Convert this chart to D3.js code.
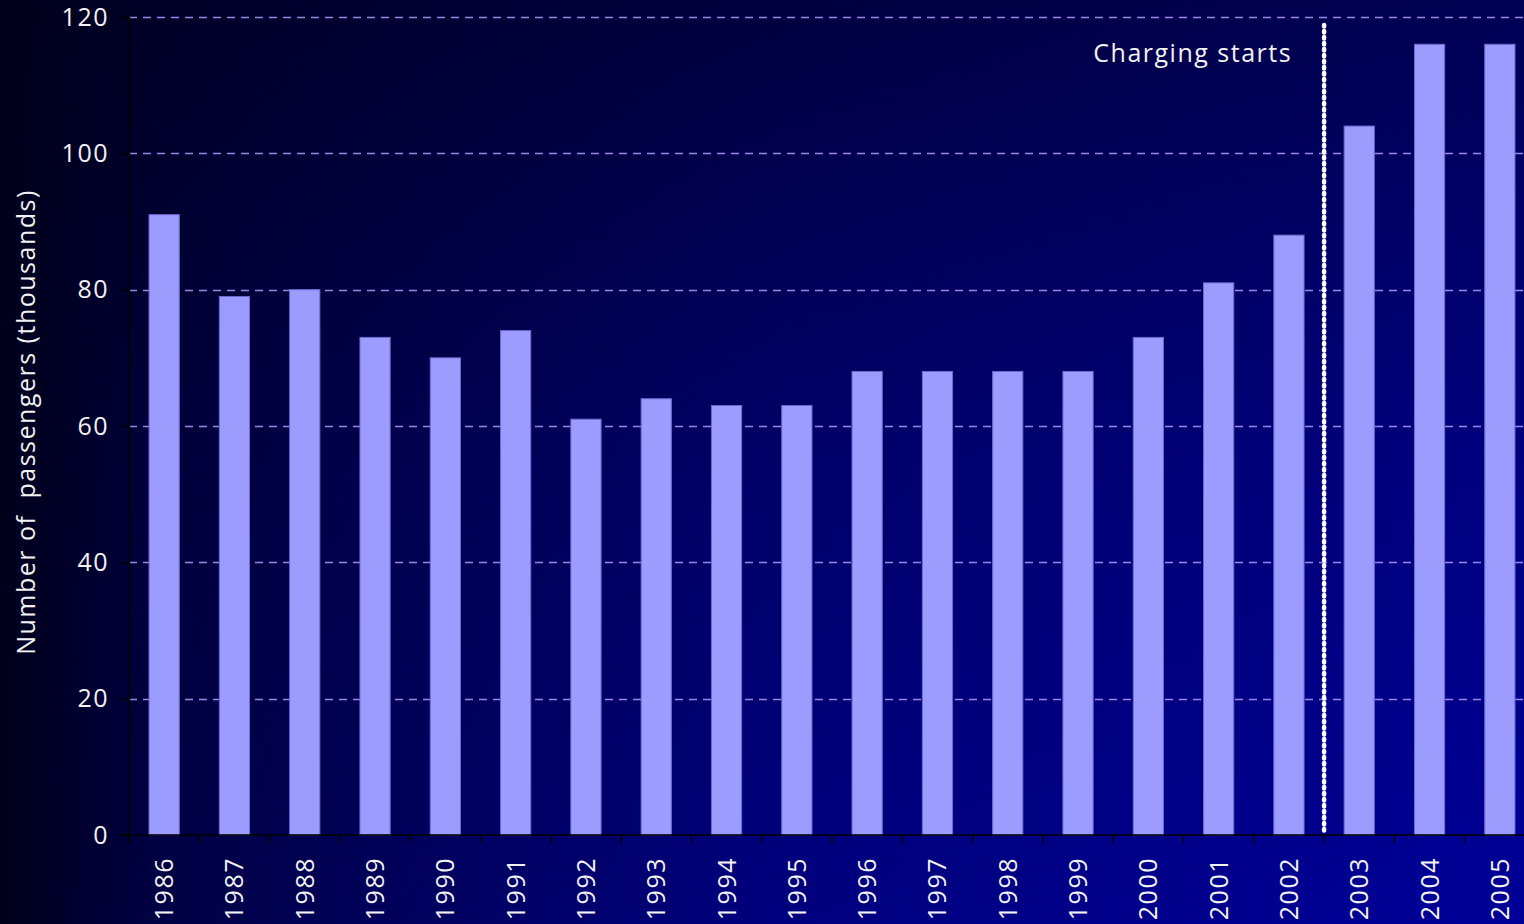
<!DOCTYPE html>
<html>
<head>
<meta charset="utf-8">
<script src="https://cdn.jsdelivr.net/npm/d3@7"></script>
<style>
  html, body { margin: 0; padding: 0; background: #000018; }
  svg { display: block; }
  text { font-family: "Open Sans", "DejaVu Sans", sans-serif; fill: #f2f2f2; letter-spacing: 1.5px; }
</style>
</head>
<body>
<div id="vis"></div>
<script>
const WIDTH = 1524;
const HEIGHT = 924;
const MARGIN = { LEFT: 129, TOP: 17, BOTTOM: 89 };
const FONT_SIZE = "25px";

// data
const years = ["1986", "1987", "1988", "1989", "1990", "1991", "1992", "1993", "1994", "1995",
  "1996", "1997", "1998", "1999", "2000", "2001", "2002", "2003", "2004", "2005"];
const passengers = [91, 79, 80, 73, 70, 74, 61, 64, 63, 63,
  68, 68, 68, 68, 73, 81, 88, 104, 116, 116];
const yTicks = [0, 20, 40, 60, 80, 100, 120];
const chargingYear = "2003";
const chargingLabel = "Charging starts";
const yLabel = "Number of\u00a0 passengers (thousands)";

const data = years.map((y, i) => ({ year: y, value: passengers[i] }));

const svg = d3.select("#vis")
  .append("svg")
  .attr("width", WIDTH)
  .attr("height", HEIGHT);

// background: dark base that lightens to the right, plus a blue layer
// that grows toward the bottom right
const defs = svg.append("defs");
const base = defs.append("linearGradient")
  .attr("id", "bgBase")
  .attr("x1", 0).attr("y1", 0).attr("x2", 1).attr("y2", 0);
base.append("stop").attr("offset", "0%").attr("stop-color", "#00001c");
base.append("stop").attr("offset", "100%").attr("stop-color", "#000042");

const blue = defs.append("linearGradient")
  .attr("id", "bgBlue")
  .attr("x1", 0).attr("y1", 0).attr("x2", 1).attr("y2", 0);
[[0, 0], [0.1, 0.3], [0.5, 0.75], [1, 1]].forEach(([o, a]) => {
  blue.append("stop").attr("offset", o).attr("stop-color", "#000098").attr("stop-opacity", a);
});

const vert = defs.append("linearGradient")
  .attr("id", "bgVert")
  .attr("x1", 0).attr("y1", 0).attr("x2", 0).attr("y2", 1);
[[0, 0.2], [0.5, 0.72], [1, 1]].forEach(([o, a]) => {
  vert.append("stop").attr("offset", o).attr("stop-color", "#ffffff").attr("stop-opacity", a);
});
defs.append("mask")
  .attr("id", "bgMask")
  .append("rect")
  .attr("width", WIDTH)
  .attr("height", HEIGHT)
  .attr("fill", "url(#bgVert)");

svg.append("rect")
  .attr("width", WIDTH)
  .attr("height", HEIGHT)
  .attr("fill", "url(#bgBase)");
svg.append("rect")
  .attr("width", WIDTH)
  .attr("height", HEIGHT)
  .attr("fill", "url(#bgBlue)")
  .attr("mask", "url(#bgMask)");

// scales (the last band runs past the right edge, like the original)
const x = d3.scaleBand()
  .domain(years)
  .range([MARGIN.LEFT, 1535])
  .paddingInner(0.57)
  .paddingOuter(0.285);

const y = d3.scaleLinear()
  .domain([0, 120])
  .range([HEIGHT - MARGIN.BOTTOM, MARGIN.TOP]);

// gridlines
svg.append("g")
  .attr("class", "grid")
  .selectAll("line")
  .data(yTicks.filter((d) => d > 0))
  .enter()
  .append("line")
  .attr("x1", MARGIN.LEFT)
  .attr("x2", WIDTH)
  .attr("y1", (d) => Math.round(y(d)) + 0.5)
  .attr("y2", (d) => Math.round(y(d)) + 0.5)
  .attr("stroke", "#9a86e6")
  .attr("stroke-width", 1.5)
  .attr("stroke-dasharray", "8,6");

// bars
svg.append("g")
  .attr("class", "bars")
  .selectAll("rect")
  .data(data)
  .enter()
  .append("rect")
  .attr("x", (d) => x(d.year))
  .attr("y", (d) => y(d.value))
  .attr("width", x.bandwidth())
  .attr("height", (d) => y(0) - y(d.value))
  .attr("fill", "#9c9cff")
  .attr("stroke", "#6a6ad0")
  .attr("stroke-width", 1);

// y axis
const yAxis = svg.append("g")
  .attr("transform", `translate(${MARGIN.LEFT},0)`)
  .call(d3.axisLeft(y).tickValues(yTicks).tickSize(8).tickPadding(12));
yAxis.select(".domain").attr("stroke", "#000000").attr("stroke-width", 1.5);
yAxis.selectAll(".tick line").attr("stroke", "#000000").attr("stroke-width", 1.5);
yAxis.selectAll(".tick text")
  .attr("fill", "#f2f2f2")
  .style("font-size", FONT_SIZE)
  .style("font-family", "Open Sans, sans-serif");

// x axis: ticks sit between the bands
const xAxisG = svg.append("g")
  .attr("transform", `translate(0,${y(0)})`);
xAxisG.append("line")
  .attr("x1", MARGIN.LEFT - 8)
  .attr("x2", WIDTH)
  .attr("stroke", "#000000")
  .attr("stroke-width", 1.5);
xAxisG.selectAll(".xtick")
  .data(years)
  .enter()
  .append("line")
  .attr("class", "xtick")
  .attr("x1", (d) => x(d) - x.step() * x.paddingInner() / 2)
  .attr("x2", (d) => x(d) - x.step() * x.paddingInner() / 2)
  .attr("y1", 0)
  .attr("y2", 8)
  .attr("stroke", "#000000")
  .attr("stroke-width", 1.5);
xAxisG.selectAll(".xlabel")
  .data(years)
  .enter()
  .append("text")
  .attr("class", "xlabel")
  .attr("transform", (d) => `translate(${x(d) + x.bandwidth() / 2 + 9},${22}) rotate(-90)`)
  .attr("text-anchor", "end")
  .style("font-size", FONT_SIZE)
  .text((d) => d);

// y axis title
svg.append("text")
  .attr("transform", `translate(35,${422}) rotate(-90)`)
  .attr("text-anchor", "middle")
  .style("font-size", FONT_SIZE)
  .text(yLabel);

// charging starts marker
const markX = x(chargingYear) - x.step() * x.paddingInner() / 2;
svg.append("line")
  .attr("x1", markX)
  .attr("x2", markX)
  .attr("y1", 25)
  .attr("y2", y(0) - 2)
  .attr("stroke", "#ffffff")
  .attr("stroke-width", 4.5)
  .attr("stroke-linecap", "round")
  .attr("stroke-dasharray", "1.4,4.6");

svg.append("text")
  .attr("x", markX - 32)
  .attr("y", 62)
  .attr("text-anchor", "end")
  .style("font-size", FONT_SIZE)
  .text(chargingLabel);
</script>
</body>
</html>
